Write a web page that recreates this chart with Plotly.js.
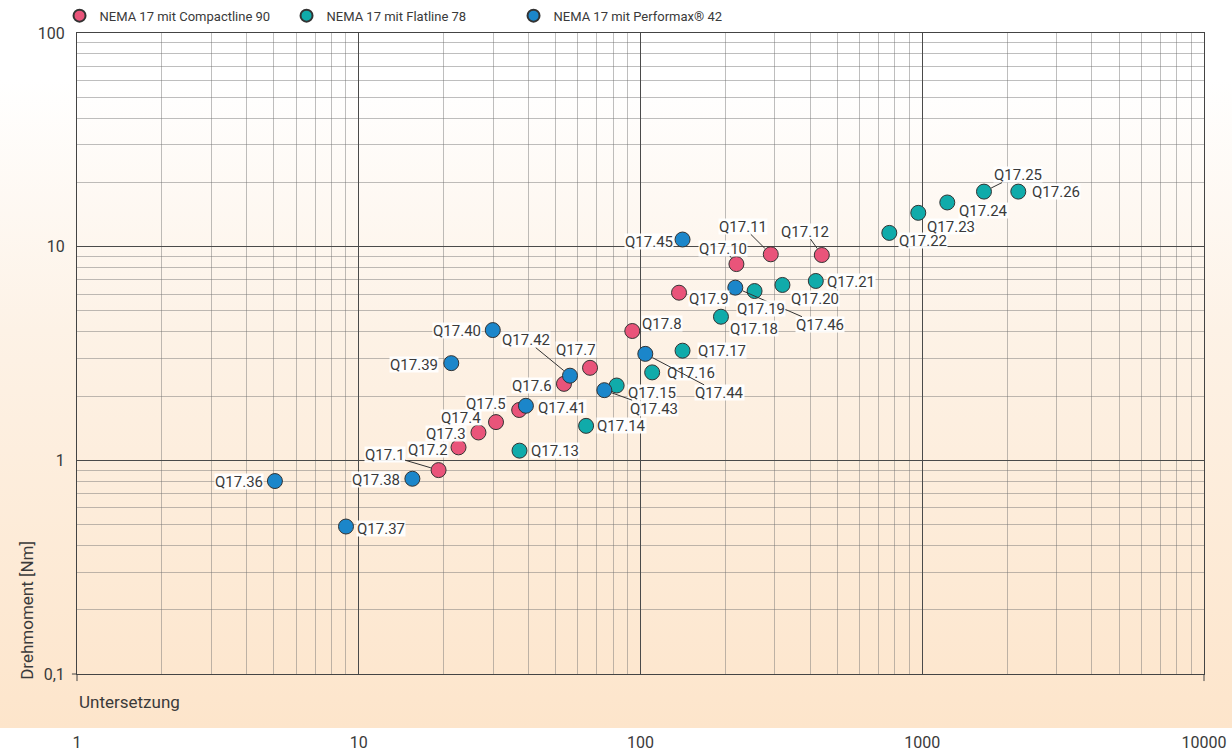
<!DOCTYPE html>
<html>
<head>
<meta charset="utf-8">
<script src="https://cdn.plot.ly/plotly-3.0.1.min.js"></script>
<style>
  html, body { margin: 0; padding: 0; background: #ffffff; }
  #bg { position: absolute; left: 0; top: 0; width: 1232px; height: 728px;
        background: linear-gradient(to bottom, #ffffff 0px, #ffffff 80px, #fdf2e6 330px, #fde5cb 728px); }
  #chart { position: absolute; left: 0; top: 0; width: 1232px; height: 751px; }
</style>
</head>
<body>
<div id="bg"></div>
<div id="chart"></div>
<script>
// ---- data ----
const seriesNames = ['NEMA 17 mit Compactline 90', 'NEMA 17 mit Flatline 78', 'NEMA 17 mit Performax® 42'];

const compactLabels = ['Q17.1','Q17.2','Q17.3','Q17.4','Q17.5','Q17.6','Q17.7','Q17.8','Q17.9','Q17.10','Q17.11','Q17.12'];
const compactRatio  = [19.2, 22.6, 26.6, 30.7, 37.1, 53.5, 66.2, 93.5, 137, 219, 290, 440];
const compactTorque = [0.90, 1.15, 1.35, 1.51, 1.72, 2.28, 2.71, 4.03, 6.09, 8.29, 9.21, 9.14];

const flatLabels = ['Q17.13','Q17.14','Q17.15','Q17.16','Q17.17','Q17.18','Q17.19','Q17.20','Q17.21','Q17.22','Q17.23','Q17.24','Q17.25','Q17.26'];
const flatRatio  = [37.2, 64.1, 82.3, 110, 141, 193, 254, 319, 419, 764, 968, 1227, 1656, 2192];
const flatTorque = [1.11, 1.45, 2.24, 2.58, 3.26, 4.70, 6.20, 6.62, 6.91, 11.6, 14.4, 16.1, 18.1, 18.1];

const perfLabels = ['Q17.36','Q17.37','Q17.38','Q17.39','Q17.40','Q17.41','Q17.42','Q17.43','Q17.44','Q17.45','Q17.46'];
const perfRatio  = [5.04, 9.01, 15.5, 21.3, 29.9, 39.2, 56.2, 74.4, 104, 141, 217];
const perfTorque = [0.80, 0.49, 0.82, 2.85, 4.07, 1.80, 2.49, 2.13, 3.15, 10.8, 6.43];

const xTickVals = [1, 10, 100, 1000, 10000];
const xTickText = ['1', '10', '100', '1000', '10000'];
const yTickVals = [0.1, 1, 10, 100];
const yTickText = ['0,1', '1', '10', '100'];

// ---- styles ----
const colors = ['#e9547a', '#10abaa', '#1b86ca'];
const FONT = 'Roboto, "Open Sans", sans-serif';
const textColor = '#3a3a3a';

// label placement: [dx, dy (screen px, down positive), leader line]
const labelPos = {
  'Q17.1': [-54, -16, true], 'Q17.2': [-31, 2], 'Q17.3': [-32, 1], 'Q17.4': [-35, -5],
  'Q17.5': [-33, -7], 'Q17.6': [-32, 2], 'Q17.7': [-14, -18], 'Q17.8': [30, -8],
  'Q17.9': [30, 6], 'Q17.10': [-13, -16, true], 'Q17.11': [-28, -28, true], 'Q17.12': [-17, -24, true],
  'Q17.13': [35, 0], 'Q17.14': [35, 0], 'Q17.15': [35, 7], 'Q17.16': [39, 0], 'Q17.17': [39, 0],
  'Q17.18': [33, 12], 'Q17.19': [6, 17], 'Q17.20': [33, 14], 'Q17.21': [35, 1],
  'Q17.22': [34, 8], 'Q17.23': [33, 14], 'Q17.24': [36, 8], 'Q17.25': [34, -17, true], 'Q17.26': [38, 0],
  'Q17.36': [-36, 0], 'Q17.37': [35, 2], 'Q17.38': [-36, 1], 'Q17.39': [-37, 1], 'Q17.40': [-36, 0],
  'Q17.41': [36, 2], 'Q17.42': [-44, -36, true], 'Q17.43': [50, 18, true], 'Q17.44': [74, 39, true],
  'Q17.45': [-34, 2], 'Q17.46': [85, 37, true]
};

const groups = [
  {name: seriesNames[0], labels: compactLabels, x: compactRatio, y: compactTorque, color: colors[0]},
  {name: seriesNames[1], labels: flatLabels, x: flatRatio, y: flatTorque, color: colors[1]},
  {name: seriesNames[2], labels: perfLabels, x: perfRatio, y: perfTorque, color: colors[2]}
];

const traces = groups.map(g => ({
  type: 'scatter', mode: 'markers', name: g.name,
  x: g.x, y: g.y, text: g.labels, hoverinfo: 'text+x+y',
  marker: {size: 15, color: g.color, line: {color: '#333333', width: 1}}
}));

// annotations: Q17.46 first so that Q17.19 label covers its leader line
const annotations = [];
const ordered = [];
groups.forEach(g => g.labels.forEach((lab, i) => ordered.push({lab, x: g.x[i], y: g.y[i]})));
ordered.sort((a, b) => (a.lab === 'Q17.46' ? -1 : 0) - (b.lab === 'Q17.46' ? -1 : 0));
ordered.forEach(p => {
  const pos = labelPos[p.lab];
  const base = {
    x: Math.log10(p.x), y: Math.log10(p.y), xref: 'x', yref: 'y',
    text: p.lab, font: {family: FONT, size: 15, color: textColor},
    bgcolor: 'rgba(255,255,255,0.92)', borderpad: 0, height: 15
  };
  if (pos[2]) {
    Object.assign(base, {showarrow: true, arrowhead: 0, arrowwidth: 1, arrowcolor: '#333333',
      standoff: 8, ax: pos[0], ay: pos[1], axref: 'pixel', ayref: 'pixel'});
  } else {
    Object.assign(base, {showarrow: false, xanchor: 'center', yanchor: 'middle',
      xshift: pos[0], yshift: -pos[1]});
  }
  annotations.push(base);
});

// axis titles as annotations (left aligned / bottom aligned as in the original)
annotations.push({xref: 'paper', yref: 'paper', x: 0, y: -0.043, xanchor: 'left', yanchor: 'middle',
  text: 'Untersetzung', showarrow: false, font: {family: FONT, size: 17, color: textColor}});
annotations.push({xref: 'paper', yref: 'paper', x: -0.0444, y: 0.1, xanchor: 'center', yanchor: 'middle',
  textangle: -90, text: 'Drehmoment [Nm]', showarrow: false, font: {family: FONT, size: 17, color: textColor}});

const gridMajor = '#4a4a4a';
const gridMinor = 'rgba(110,110,110,0.45)';

const layout = {
  width: 1232, height: 751,
  margin: {l: 77, r: 28, t: 33, b: 77, autoexpand: false},
  paper_bgcolor: 'rgba(0,0,0,0)', plot_bgcolor: 'rgba(0,0,0,0)',
  font: {family: FONT, color: textColor},
  showlegend: true,
  legend: {orientation: 'h', x: -0.0155, y: 1.027, xanchor: 'left', yanchor: 'middle',
    font: {family: FONT, size: 13, color: textColor}, bgcolor: 'rgba(0,0,0,0)',
    itemsizing: 'constant', entrywidth: 182, entrywidthmode: 'pixels', traceorder: 'normal'},
  xaxis: {
    type: 'log', range: [0, 4], tickmode: 'array', tickvals: xTickVals, ticktext: xTickText,
    showgrid: true, gridcolor: gridMajor, gridwidth: 1,
    showline: true, mirror: true, linecolor: '#444444', linewidth: 1,
    ticks: '', ticklabelstandoff: 54, zeroline: false,
    tickfont: {family: FONT, size: 16, color: textColor},
    minor: {dtick: 'D1', showgrid: true, gridcolor: gridMinor, gridwidth: 1, ticks: ''}
  },
  yaxis: {
    type: 'log', range: [-1, 2], tickmode: 'array', tickvals: yTickVals, ticktext: yTickText,
    showgrid: true, gridcolor: gridMajor, gridwidth: 1,
    showline: true, mirror: true, linecolor: '#444444', linewidth: 1,
    ticks: '', ticklabelstandoff: 8, zeroline: false,
    tickfont: {family: FONT, size: 16, color: textColor},
    minor: {dtick: 'D1', showgrid: true, gridcolor: gridMinor, gridwidth: 1, ticks: ''}
  },
  annotations: annotations,
  shapes: [
    {type: 'line', xref: 'paper', yref: 'paper', x0: 0, x1: 0, y0: 0, y1: -0.011, line: {color: '#444444', width: 1}},
    {type: 'line', xref: 'paper', yref: 'paper', x0: 1, x1: 1, y0: 0, y1: -0.011, line: {color: '#444444', width: 1}},
    {type: 'line', xref: 'paper', yref: 'paper', x0: -0.0045, x1: 0, y0: 0, y1: 0, line: {color: '#444444', width: 1}}
  ]
};

Plotly.newPlot('chart', traces, layout, {displayModeBar: false, staticPlot: false});
</script>
</body>
</html>
